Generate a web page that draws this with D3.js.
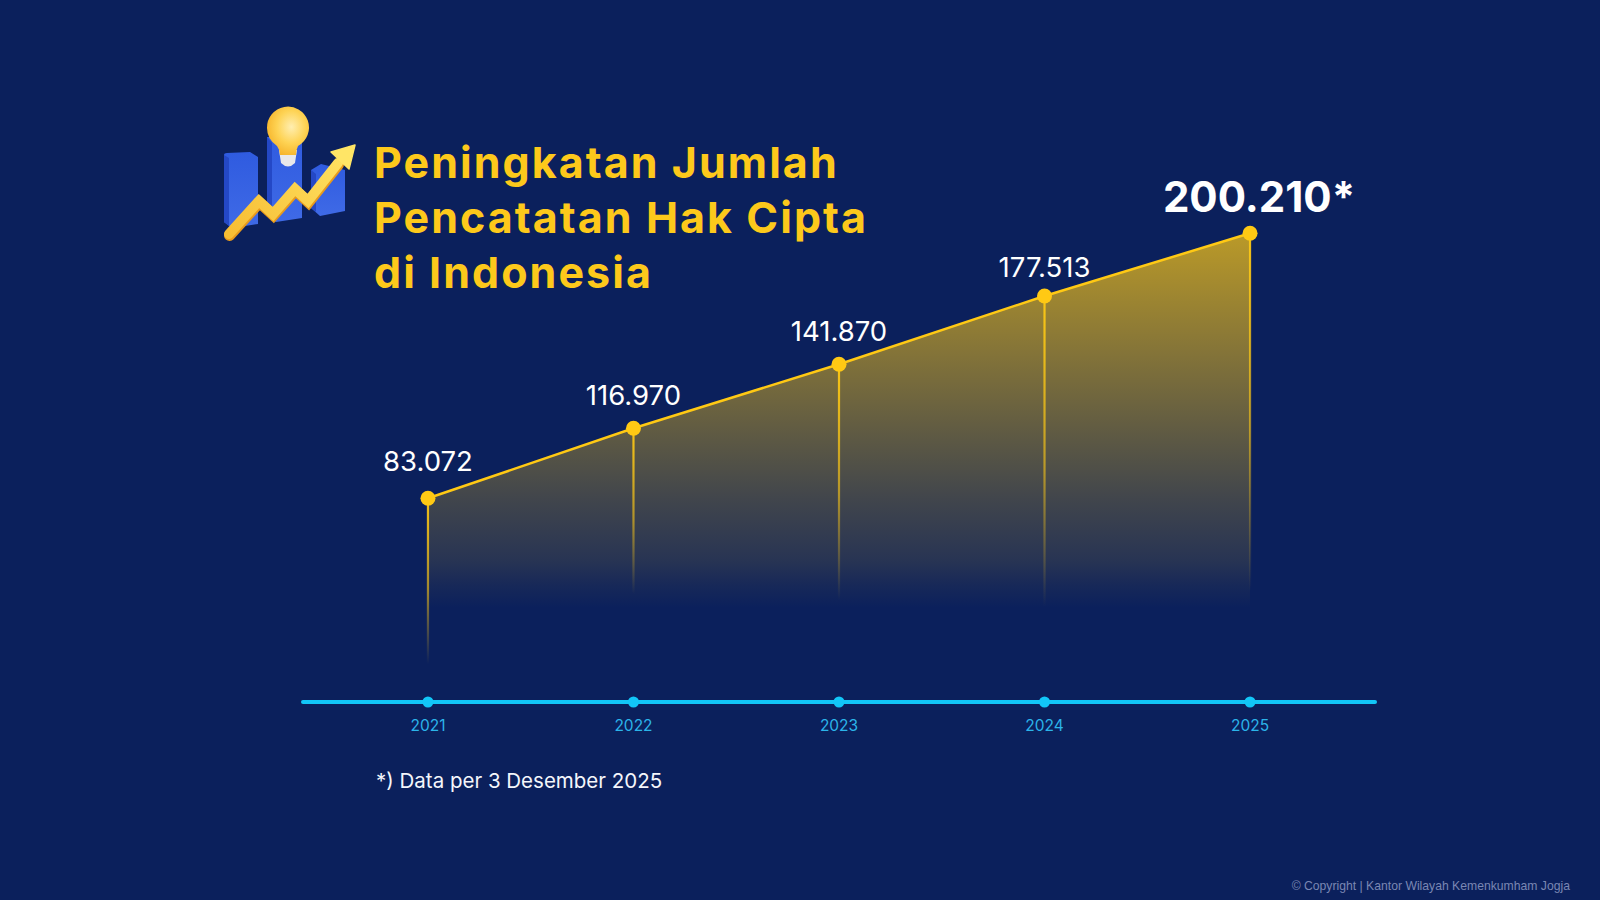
<!DOCTYPE html>
<html>
<head>
<meta charset="utf-8">
<script src="https://cdn.jsdelivr.net/npm/d3@7"></script>
<style>
	html, body { margin:0; padding:0; background:#0b205c; }
	svg { display:block; }
	text { font-family:"Inter", sans-serif; }
</style>
</head>
<body>
<div id="chart-area"></div>
<script>
/*
*    Peningkatan Jumlah Pencatatan Hak Cipta di Indonesia
*/

//data
var years = ["2021", "2022", "2023", "2024", "2025"];
var valueLabels = ["83.072", "116.970", "141.870", "177.513", "200.210*"];
var values = [83072, 116970, 141870, 177513, 200210];
//the source picture does not place its points strictly to value,
//so these are the levels
var drawnLevels = [83072, 114020, 142310, 172510, 200210];
var titleLines = ["Peningkatan Jumlah", "Pencatatan Hak Cipta", "di Indonesia"];
var footnote = "*) Data per 3 Desember 2025";
var copyright = "© Copyright | Kantor Wilayah Kemenkumham Jogja";

var width = 1600, height = 900;

var gold = "#ffc914";
var cyan = "#12c6f7";

var canvas = d3.select("#chart-area")
	.append("svg")
		.attr("width", width)
		.attr("height", height);

canvas.append("rect")
	.attr("width", width)
	.attr("height", height)
	.attr("fill", "#0b205c");

var defs = canvas.append("defs");

//scales
var x = d3.scalePoint()
	.domain(years)
	.range([303, 1375])
	.padding(0.608);

var y = d3.scaleLinear()
	.domain([83072, 200210])
	.range([498.3, 233.3]);

var points = years.map(function(year, i){
	return {year:year, level:drawnLevels[i], value:values[i], label:valueLabels[i]};
});

//area under the line
var areaBottom = 608;

var areaGrad = defs.append("linearGradient")
	.attr("id", "area-grad")
	.attr("gradientUnits", "userSpaceOnUse")
	.attr("x1", 0).attr("x2", 0)
	.attr("y1", y(200210)).attr("y2", areaBottom);
[[0, 0.72], [0.712, 0.22], [0.872, 0.12], [0.94, 0.05], [1, 0]].forEach(function(s){
	areaGrad.append("stop")
		.attr("offset", s[0])
		.attr("stop-color", gold)
		.attr("stop-opacity", s[1]);
});

var area = d3.area()
	.x(function(d){ return x(d.year) })
	.y0(areaBottom)
	.y1(function(d){ return y(d.level) });

canvas.append("path")
	.datum(points)
	.attr("d", area)
	.attr("fill", "url(#area-grad)");

//stems, each one fades out at its own depth
var stemEnds = [664, 594, 600, 607, 591];

points.forEach(function(d, i){
	var grad = defs.append("linearGradient")
		.attr("id", "stem-" + i)
		.attr("gradientUnits", "userSpaceOnUse")
		.attr("x1", 0).attr("x2", 0)
		.attr("y1", y(d.level)).attr("y2", stemEnds[i]);
	grad.append("stop").attr("offset", 0).attr("stop-color", gold).attr("stop-opacity", 0.95);
	grad.append("stop").attr("offset", 0.55).attr("stop-color", gold).attr("stop-opacity", 0.6);
	grad.append("stop").attr("offset", 1).attr("stop-color", gold).attr("stop-opacity", 0);

	canvas.append("rect")
		.attr("x", x(d.year) - 1.1)
		.attr("y", y(d.level))
		.attr("width", 2.2)
		.attr("height", stemEnds[i] - y(d.level))
		.attr("fill", "url(#stem-" + i + ")");
});

//line
var line = d3.line()
	.x(function(d){ return x(d.year) })
	.y(function(d){ return y(d.level) });

canvas.append("path")
	.datum(points)
	.attr("d", line)
	.attr("fill", "none")
	.attr("stroke", gold)
	.attr("stroke-width", 2.5);

canvas.selectAll("circle.point")
	.data(points)
	.enter()
	.append("circle")
		.attr("class", "point")
		.attr("cx", function(d){ return x(d.year) })
		.attr("cy", function(d){ return y(d.level) })
		.attr("r", 7.5)
		.attr("fill", gold);

//value labels, the last one is the big one
var labelGaps = [27, 23, 23, 19, 21];

canvas.selectAll("text.value")
	.data(points)
	.enter()
	.append("text")
		.attr("class", "value")
		.attr("x", function(d, i){ return x(d.year) + (i == 4 ? 9 : 0) })
		.attr("y", function(d, i){ return y(d.level) - labelGaps[i] })
		.attr("text-anchor", "middle")
		.attr("font-size", function(d, i){ return i == 4 ? 42 : 27.5 })
		.attr("font-weight", function(d, i){ return i == 4 ? 700 : 400 })
		.attr("fill", "#ffffff")
		.text(function(d){ return d.label });

//x axis
var xAxisCall = d3.axisBottom(x)
	.tickSize(0)
	.tickPadding(18)
	.offset(0);

var xAxis = canvas.append("g")
	.attr("class", "x axis")
	.attr("transform", "translate(0, 702)")
	.call(xAxisCall);

xAxis.select(".domain")
	.attr("stroke", cyan)
	.attr("stroke-width", 4)
	.attr("stroke-linecap", "round");

xAxis.selectAll(".tick text")
	.attr("font-family", "Inter, sans-serif")
	.attr("font-size", 15.5)
	.attr("fill", "#2bb4ea");

xAxis.selectAll(".tick")
	.append("circle")
		.attr("r", 5.5)
		.attr("fill", cyan);

//title
canvas.selectAll("text.title")
	.data(titleLines)
	.enter()
	.append("text")
		.attr("class", "title")
		.attr("x", 374)
		.attr("y", function(d, i){ return 178 + i*55 })
		.attr("font-size", 43)
		.attr("font-weight", 700)
		.attr("letter-spacing", 2.05)
		.attr("fill", "#fdc91b")
		.text(function(d){ return d });

canvas.append("text")
	.attr("x", 376)
	.attr("y", 788)
	.attr("font-size", 20.5)
	.attr("font-weight", 400)
	.attr("fill", "#f4f6fb")
	.text(footnote);

canvas.append("text")
	.attr("x", 1570)
	.attr("y", 890)
	.attr("text-anchor", "end")
	.attr("font-size", 12.2)
	.attr("fill", "#7a87b3")
	.style("font-family", "'Liberation Sans', sans-serif")
	.text(copyright);

//icon: three bars, bulb and rising arrow
var icon = canvas.append("g").attr("class", "icon");

var barGrad = defs.append("linearGradient")
	.attr("id", "bar-grad")
	.attr("x1", 0).attr("x2", 0).attr("y1", 0).attr("y2", 1);
barGrad.append("stop").attr("offset", 0).attr("stop-color", "#2f5be0");
barGrad.append("stop").attr("offset", 1).attr("stop-color", "#3f6ae6");

var bulbGrad = defs.append("radialGradient")
	.attr("id", "bulb-grad")
	.attr("cx", 0.58).attr("cy", 0.42).attr("r", 0.62);
bulbGrad.append("stop").attr("offset", 0).attr("stop-color", "#ffeeb0");
bulbGrad.append("stop").attr("offset", 0.55).attr("stop-color", "#fed354");
bulbGrad.append("stop").attr("offset", 1).attr("stop-color", "#f6b42a");

var arrowGrad = defs.append("linearGradient")
	.attr("id", "arrow-grad")
	.attr("gradientUnits", "userSpaceOnUse")
	.attr("x1", 228).attr("y1", 233).attr("x2", 355).attr("y2", 145);
arrowGrad.append("stop").attr("offset", 0).attr("stop-color", "#f7bd33");
arrowGrad.append("stop").attr("offset", 1).attr("stop-color", "#ffe566");

[
	"M224,155 Q224,153 227,153 L250,152 L258,157 L258,224 L232,228 L224,222 Z",
	"M267,137 L302,137 L302,218 L276,222 L267,216 Z",
	"M311,170 L321,164 L345,170 L345,211 L320,216 L311,208 Z"
].forEach(function(p){
	icon.append("path").attr("d", p).attr("fill", "url(#bar-grad)");
});

[
	"M224,155 L229,158 L229,226 L224,222 Z",
	"M267,137 L272,143 L272,219 L267,216 Z",
	"M311,170 L316,174 L316,212 L311,208 Z"
].forEach(function(p){
	icon.append("path").attr("d", p).attr("fill", "#2448c6");
});

icon.append("path")
	.attr("d", "M279,150 L297,150 L295,163 Q288,170 281,163 Z")
	.attr("fill", "#e8e8ea");

icon.append("path")
	.attr("d", "M267,128 A21,21 0 1 1 298,146 Q296,150 296,155 L280,155 Q280,150 277,146 Q267,139 267,128 Z")
	.attr("fill", "url(#bulb-grad)");

var arrowPath = "M229,234 L259,201 L273,214 L295,189 L308,201 L338,163";

icon.append("path")
	.attr("d", arrowPath)
	.attr("fill", "none")
	.attr("stroke", "#e89a1c")
	.attr("stroke-width", 11)
	.attr("stroke-linejoin", "miter")
	.attr("stroke-linecap", "round")
	.attr("transform", "translate(0.5, 1.5)");

icon.append("path")
	.attr("d", arrowPath)
	.attr("fill", "none")
	.attr("stroke", "url(#arrow-grad)")
	.attr("stroke-width", 10)
	.attr("stroke-linejoin", "miter")
	.attr("stroke-linecap", "round");

icon.append("path")
	.attr("d", "M355,145 L349,169 L331,152 Z")
	.attr("fill", "#ffe566")
	.attr("stroke", "#ffe566")
	.attr("stroke-width", 1.5)
	.attr("stroke-linejoin", "round");
</script>
</body>
</html>
